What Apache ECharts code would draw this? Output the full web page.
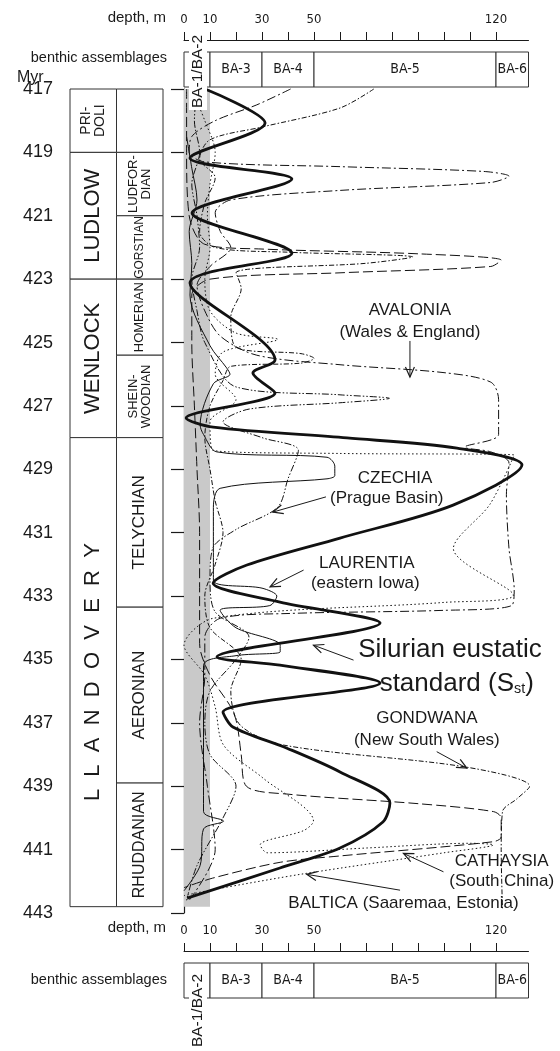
<!DOCTYPE html>
<html><head><meta charset="utf-8">
<script src="https://cdn.jsdelivr.net/npm/echarts@6/dist/echarts.min.js"></script>
<style>html,body{margin:0;padding:0;background:#fff}#chart{width:560px;height:1051px}</style>
</head><body><div id="chart"></div>
<script>
// ---- values ----
const myrRange = [417, 443];
const myrStep = 2;
const depthRange = [0, 132.5];
const depthTicks = [0, 10, 20, 30, 40, 50, 60, 70, 80, 90, 100, 110, 120];
const depthLabels = [0, 10, 30, 50, 120];
const shelfBand = [0, 10];            // BA-1/BA-2 depth band, shaded
const columnBase = 442.8;
const benthicEdges = [0, 10, 30, 50, 120, 132.5];
const benthicNames = ['BA-1/BA-2', 'BA-3', 'BA-4', 'BA-5', 'BA-6'];
const seriesNames = ['PRI-\nDOLI', 'LUDLOW', 'WENLOCK', 'L  L  A  N  D  O  V  E  R  Y'];
const seriesBounds = [417, 419, 423, 428, 442.8];
const stageNames = ['', 'LUDFOR-\nDIAN', 'GORSTIAN', 'HOMERIAN', 'SHEIN-\nWOODIAN', 'TELYCHIAN', 'AERONIAN', 'RHUDDANIAN'];
const stageBounds = [417, 419, 421, 423, 425.4, 428, 433.35, 438.9, 442.8];

// depth (m) against age (Myr)
const sst = [[8.1,417.0],[31.2,418.07],[2.3,419.18],[41.5,419.84],[3.1,420.91],[41.5,422.18],[2.3,423.12],[35,425.55],[26.5,425.96],[35,426.59],[0.8,427.38],[11.2,427.67],[62.7,428.01],[105,428.33],[130,428.86],[103.5,430.13],[60,431.17],[24.2,432.02],[11.2,432.59],[36.9,433.19],[75.4,433.85],[12.7,434.92],[36.9,435.18],[75.4,435.74],[15,436.66],[18.8,437.13],[39.6,437.8],[60,438.55],[79.2,439.53],[76.5,440.13],[60,440.95],[36.9,441.58],[1.2,442.53]];
const avalonia = [[41,417.0],[28,417.5],[12,418.0],[3,418.5],[2,419.0],[8,419.3],[60,419.45],[115,419.6],[125,419.75],[118,419.95],[60,420.2],[18,420.5],[12,420.9],[14,421.5],[18,422.0],[10,422.6],[5,423.2],[8,424.0],[14,424.8],[28,425.4],[60,425.7],[100,425.95],[118,426.25],[121,426.8],[121,427.9],[108,428.3],[118,428.45],[125,428.8],[124,429.8],[125,431.5],[127,432.8],[126,433.3],[100,433.45],[40,433.55],[14,433.7],[8,434.3],[8,435.5],[6,437],[9,439],[12,441],[2,442.6]];
const czechia = [[5,417.0],[4,418],[6,419],[3,420],[5,421],[6,422],[3,423],[5,424],[8,425],[20,426.4],[60,426.65],[79,426.76],[60,426.9],[25,427.1],[15,427.5],[30,428.0],[44,428.4],[40,429.3],[36,430.2],[20,430.9],[11,431.5],[10,432.5],[12,433.5],[25,434.3],[20,435],[10,436],[8,437],[10,438],[20,439],[15,440],[5,441.5],[1,442.6]];
const laurentia = [[1,418.5],[3,419.5],[5,420.5],[2,421.5],[3,422.5],[2.3,423.5],[10,425.1],[16.4,425.8],[17.7,426.0],[11.3,426.3],[6.2,427.6],[7.5,427.9],[12.6,428.45],[55,428.62],[58,428.9],[58,429.2],[55,429.3],[13.9,429.6],[11.3,430.2],[11.3,432.5],[30,432.75],[35.7,433.0],[33,433.3],[13.9,433.45],[20,434.0],[37,434.55],[37,434.76],[20,434.88],[7.5,435.2],[7.5,439.8],[15.2,440.1],[7.5,440.35],[6.2,441.5],[0,442.3]];
const gondwana = [[73,417.0],[60,417.6],[30,418.2],[10,418.6],[6,419.2],[12,419.8],[8,420.6],[6,421.5],[12,422.0],[40,422.15],[88,422.3],[70,422.5],[20,422.8],[22,423.3],[18,424.2],[20,425.15],[45,425.35],[50,425.5],[45,425.65],[18,425.75],[15,426.2],[10,427],[8,428],[10,429],[12,430],[15,431],[12,432],[8,433],[10,434],[22,435],[18,436],[21.6,437.07],[38.2,437.7],[108.8,438.4],[133,439.0],[128,439.4],[122.5,439.8],[122,441],[122.5,442.9]];
const cathaysia = [[1,417],[1,419],[2,421],[8,421.9],[30,422.05],[90,422.2],[122,422.4],[118,422.6],[60,422.8],[10,423.0],[3,423.5],[3,425],[4,427],[5,429],[6,431],[6,433],[6,434.5],[10,435.5],[18,436.5],[20.3,437.0],[22,438],[24,439.0],[40,439.25],[90,439.55],[119,439.8],[122,440.0],[122,440.6],[119,440.75],[60,441.2],[37,441.4],[11,441.9],[0,442.2]];
const baltica = [[4,417.2],[8,418],[12,419],[10,420],[9,421],[10,422],[8,423],[10,424],[20,424.7],[36,424.9],[15,425.3],[12,426],[20,426.8],[10,427.5],[11,428.4],[60,428.5],[127,428.55],[117.7,430.1],[103.6,431.5],[126.7,432.97],[100,433.2],[11.3,433.7],[0,434.55],[8,435.5],[12,436.5],[15.2,437.7],[30.5,438.75],[49.8,440.1],[46,440.4],[29.3,440.85],[32,441.1],[70,440.95],[110,440.8],[119,440.85],[100,441.1],[47,441.75],[12,442.25],[0,442.45]];

// ---- styling ----
const FONT = "'Liberation Sans', Arial, sans-serif";
const NARROW = "'Liberation Sans Narrow', 'DejaVu Sans Condensed', 'Liberation Sans', sans-serif";
const INK = '#1a1a1a';
const plot = { left: 184, top: 89, width: 344.5, height: 824 };
const columnBox = { left: 70, width: 93 };
const seriesFont = { 'PRI-\nDOLI': 14, 'LUDLOW': 22, 'WENLOCK': 22 };
const stageFont = { 'LUDFOR-\nDIAN': 13, 'GORSTIAN': 12, 'HOMERIAN': 13, 'SHEIN-\nWOODIAN': 13, 'TELYCHIAN': 17, 'AERONIAN': 17, 'RHUDDANIAN': 16 };

const curves = [
  { name: 'Sst', data: sst, width: 2.8, type: 'solid', z: 6 },
  { name: 'Avalonia', data: avalonia, width: 1, type: [9, 3, 2, 3] },
  { name: 'Czechia', data: czechia, width: 1, type: [7, 2, 1.5, 2, 1.5, 2] },
  { name: 'Laurentia', data: laurentia, width: 1, type: 'solid' },
  { name: 'Gondwana', data: gondwana, width: 1, type: [5, 2, 1.5, 2] },
  { name: 'Cathaysia', data: cathaysia, width: 1, type: [10, 4] },
  { name: 'Baltica', data: baltica, width: 1, type: [1.5, 2.5] }
];

// text callouts placed in depth / age units
const callouts = [
  { lines: ['AVALONIA', '(Wales & England)'], at: [[86.9, 423.97], [86.9, 424.67]], from: [86.9, 424.95], to: [86.9, 426.09], size: 17 },
  { lines: ['CZECHIA', '(Prague Basin)'], at: [[81.2, 429.27], [78, 429.9]], from: [54.6, 429.87], to: [34.2, 430.35], size: 17 },
  { lines: ['LAURENTIA', '(eastern Iowa)'], at: [[70.3, 431.97], [69.7, 432.6]], from: [46, 432.18], to: [33.1, 432.71], size: 17 },
  { lines: ['Silurian eustatic', 'standard (S{sub|st})'], at: [[102.3, 434.71], [104.9, 435.76]], from: [65.2, 435.02], to: [49.8, 434.55], size: 26 },
  { lines: ['GONDWANA', '(New South Wales)'], at: [[93.4, 436.86], [93.4, 437.54]], from: [97.2, 437.91], to: [108.8, 438.43], size: 17 },
  { lines: ['CATHAYSIA', '(South China)'], at: [[122.2, 441.38], [122.2, 442.01]], from: [99.8, 441.7], to: [84.4, 441.12], size: 17 },
  { lines: ['BALTICA (Saaremaa, Estonia)'], at: [[84.4, 442.7]], from: [83.1, 442.28], to: [47.2, 441.78], size: 17 }
];

function arrowHead(p, q) {
  const ang = Math.atan2(q[1] - p[1], q[0] - p[0]);
  const L = 11, A = 0.42;
  return [
    [q[0] - L * Math.cos(ang - A), q[1] - L * Math.sin(ang - A)],
    q,
    [q[0] - L * Math.cos(ang + A), q[1] - L * Math.sin(ang + A)]
  ];
}

const chart = echarts.init(document.getElementById('chart'), null, { renderer: 'canvas' });

const hiddenX = (min, max, grid) => ({ type: 'value', gridIndex: grid, min, max, show: false });
const hiddenY = (min, max, grid, inverse) => ({ type: 'value', gridIndex: grid, min, max, inverse, show: false });

const depthAxis = (grid) => ({
  type: 'value', gridIndex: grid, position: 'top', min: depthRange[0], max: depthRange[1], interval: 10,
  axisLine: { show: true, lineStyle: { color: INK, width: 1 } },
  axisTick: { show: true, length: 8, lineStyle: { color: INK, width: 1 }, customValues: depthTicks },
  axisLabel: { show: true, margin: 13, fontSize: 13, fontFamily: NARROW, color: INK, customValues: depthLabels,
    formatter: v => depthLabels.includes(v) ? String(v) : '' },
  splitLine: { show: false }
});

const option = {
  animation: false,
  backgroundColor: '#fff',
  grid: [
    { left: plot.left, top: plot.top, width: plot.width, height: plot.height, outerBoundsMode: 'none' },          // 0 curves
    { left: columnBox.left, top: plot.top, width: columnBox.width, height: plot.height, outerBoundsMode: 'none' },  // 1 column
    { left: plot.left, top: 52, width: plot.width, height: 35, outerBoundsMode: 'none' },                        // 2 top boxes
    { left: plot.left, top: 963, width: plot.width, height: 35, outerBoundsMode: 'none' },                       // 3 bottom boxes
    { left: plot.left, top: 39, width: plot.width, height: 1, outerBoundsMode: 'none' },                         // 4 top depth axis
    { left: plot.left, top: 950, width: plot.width, height: 1, outerBoundsMode: 'none' }                         // 5 bottom depth axis
  ],
  xAxis: [
    hiddenX(depthRange[0], depthRange[1], 0),
    hiddenX(0, 2, 1),
    hiddenX(depthRange[0], depthRange[1], 2),
    hiddenX(depthRange[0], depthRange[1], 3),
    depthAxis(4),
    depthAxis(5)
  ],
  yAxis: [
    {
      type: 'value', gridIndex: 0, min: myrRange[0], max: myrRange[1], interval: myrStep, inverse: true,
      position: 'left', offset: plot.left - 58,
      axisLine: { show: true, lineStyle: { color: INK, width: 1.2 } },
      axisTick: { show: true, length: 13, lineStyle: { color: INK, width: 1.2 } },
      axisLabel: { margin: 5, fontSize: 18, fontFamily: FONT, color: INK },
      splitLine: { show: false }
    },
    hiddenY(myrRange[0], myrRange[1], 1, true),
    hiddenY(0, 1, 2, false),
    hiddenY(0, 1, 3, false),
    hiddenY(0, 1, 4, false),
    hiddenY(0, 1, 5, false)
  ],
  graphic: [
    { type: 'text', x: 166, y: 18, style: { text: 'depth, m', fontSize: 15, fontFamily: FONT, fill: INK, align: 'right', verticalAlign: 'middle' } },
    { type: 'text', x: 167, y: 58, style: { text: 'benthic assemblages', fontSize: 14.5, fontFamily: FONT, fill: INK, align: 'right', verticalAlign: 'middle' } },
    { type: 'text', x: 17, y: 78, style: { text: 'Myr', fontSize: 16, fontFamily: FONT, fill: INK, align: 'left', verticalAlign: 'middle' } },
    { type: 'text', x: 166, y: 928, style: { text: 'depth, m', fontSize: 15, fontFamily: FONT, fill: INK, align: 'right', verticalAlign: 'middle' } },
    { type: 'text', x: 167, y: 980, style: { text: 'benthic assemblages', fontSize: 14.5, fontFamily: FONT, fill: INK, align: 'right', verticalAlign: 'middle' } }
  ],
  series: []
};

// shaded shallow band
option.series.push({
  type: 'custom', xAxisIndex: 0, yAxisIndex: 0, z: 1, silent: true,
  data: [[shelfBand[0], shelfBand[1], myrRange[0], columnBase]],
  renderItem: (params, api) => {
    const a = api.coord([api.value(0), api.value(2)]);
    const b = api.coord([api.value(1), api.value(3)]);
    return { type: 'rect', shape: { x: a[0], y: a[1], width: b[0] - a[0], height: b[1] - a[1] }, style: { fill: '#c9c9c9' } };
  }
});

// stratigraphic column
const columnCells = [];
seriesNames.forEach((n, i) => columnCells.push([0, seriesBounds[i], seriesBounds[i + 1], n]));
stageNames.forEach((n, i) => columnCells.push([1, stageBounds[i], stageBounds[i + 1], n]));
option.series.push({
  type: 'custom', xAxisIndex: 1, yAxisIndex: 1, z: 2, silent: true,
  data: columnCells,
  renderItem: (params, api) => {
    const cell = columnCells[params.dataIndex];
    const a = api.coord([cell[0], cell[1]]);
    const b = api.coord([cell[0] + 1, cell[2]]);
    const name = cell[3];
    const size = cell[0] === 0 ? (seriesFont[name] || 22) : (stageFont[name] || 13);
    return {
      type: 'group', children: [
        { type: 'rect', shape: { x: a[0], y: a[1], width: b[0] - a[0], height: b[1] - a[1] }, style: { fill: '#fff', stroke: '#333', lineWidth: 1 } },
        { type: 'text', x: (a[0] + b[0]) / 2, y: (a[1] + b[1]) / 2, rotation: Math.PI / 2,
          style: { text: name, fontSize: size, fontFamily: FONT, fill: INK, align: 'center', verticalAlign: 'middle', lineHeight: size * 1.05 } }
      ]
    };
  }
});

// benthic assemblage boxes (top and bottom)
const boxCells = benthicNames.map((n, i) => [benthicEdges[i], benthicEdges[i + 1], n]);
[[2, 2], [3, 30]].forEach(([g, shift]) => {
  option.series.push({
    type: 'custom', xAxisIndex: g, yAxisIndex: g, z: 20, silent: true,
    data: boxCells,
    renderItem: (params, api) => {
      const c = boxCells[params.dataIndex];
      const a = api.coord([c[0], 1]);
      const b = api.coord([c[1], 0]);
      const cx = (a[0] + b[0]) / 2, cy = (a[1] + b[1]) / 2;
      const first = params.dataIndex === 0;
      return {
        type: 'group', children: [
          { type: 'rect', shape: { x: a[0], y: a[1], width: b[0] - a[0], height: b[1] - a[1] }, style: { fill: first ? 'none' : '#fff', stroke: '#333', lineWidth: 1 } },
          first
            ? { type: 'text', x: cx + 1, y: cy + shift, rotation: Math.PI / 2, z2: 5,
                style: { text: c[2], fontSize: 15.5, fontFamily: FONT, fill: INK, align: 'center', verticalAlign: 'middle', backgroundColor: '#fff', padding: [1, 2] } }
            : { type: 'text', x: cx, y: cy, style: { text: c[2], fontSize: 14, fontFamily: NARROW, fill: INK, align: 'center', verticalAlign: 'middle' } }
        ]
      };
    }
  });
});

// sea-level curves
curves.forEach(c => {
  option.series.push({
    type: 'line', name: c.name, xAxisIndex: 0, yAxisIndex: 0, data: c.data,
    showSymbol: false, symbol: 'none', smooth: 0.3, clip: false, silent: true, z: c.z || 4,
    lineStyle: { color: '#111', width: c.width, type: c.type, cap: 'butt' }
  });
});

// callouts
option.series.push({
  type: 'custom', xAxisIndex: 0, yAxisIndex: 0, z: 8, silent: true,
  data: callouts.map((c, i) => [i]),
  renderItem: (params, api) => {
    const c = callouts[params.dataIndex];
    const kids = [];
    c.lines.forEach((t, k) => {
      const p = api.coord(c.at[k]);
      kids.push({ type: 'text', x: p[0], y: p[1], style: {
        text: t, fontSize: c.size, fontFamily: FONT, fill: INK, align: 'center', verticalAlign: 'middle',
        rich: { sub: { fontSize: c.size * 0.55, fontFamily: FONT, fill: INK, verticalAlign: 'bottom', padding: [c.size * 0.45, 0, 0, 0] } } } });
    });
    const p = api.coord(c.from), q = api.coord(c.to);
    kids.push({ type: 'line', shape: { x1: p[0], y1: p[1], x2: q[0], y2: q[1] }, style: { stroke: INK, lineWidth: 1 } });
    kids.push({ type: 'polyline', shape: { points: arrowHead(p, q) }, style: { stroke: INK, lineWidth: 1.2, fill: 'none' } });
    return { type: 'group', children: kids };
  }
});

chart.setOption(option);
</script>
</body></html>
